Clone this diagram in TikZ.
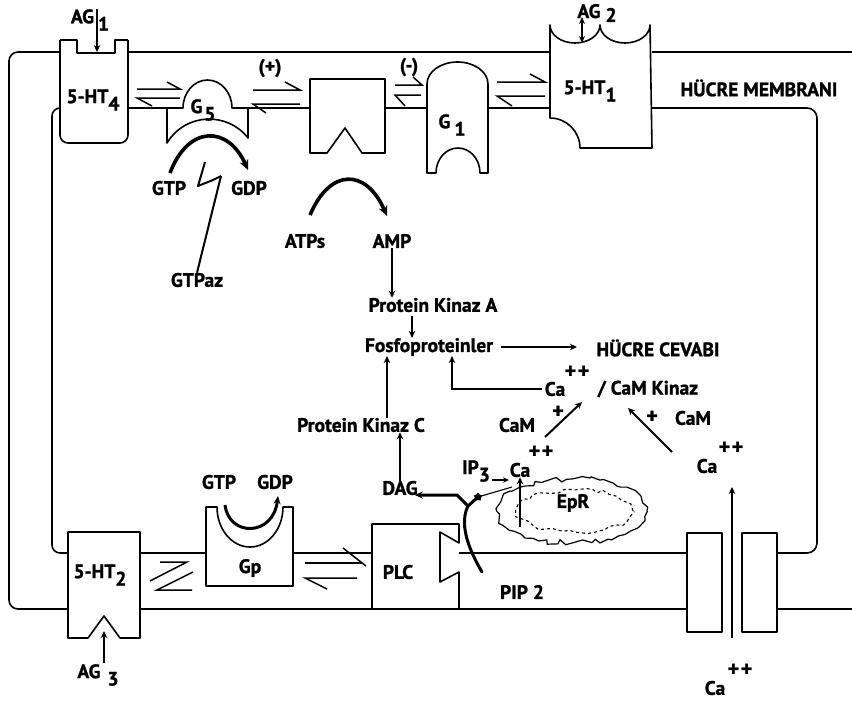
\documentclass[tikz,border=0pt]{standalone}
\usepackage{fontspec}
\setmainfont{PT Sans}
\newfontfamily\lblfont{PT Sans}[UprightFont=* Bold, FakeBold=1.2]
\usetikzlibrary{arrows.meta,decorations.pathmorphing,shapes.geometric}
\newcommand\lowx[1]{\raisebox{-0.38em}{#1}}
\newcommand\pplus{+\hspace{1.5pt}+}
\tikzset{
  lbl/.style={font=\lblfont\fontsize{19.5}{21}\selectfont, inner sep=0pt},
  plbl/.style={font=\lblfont\fontsize{22}{22}\selectfont, inner sep=0pt},
  mem/.style={line width=1.6pt, line join=round},
  shp/.style={line width=1.6pt, line join=round, fill=white},
  arr/.style={line width=2pt, -{Stealth[length=7pt,width=6.5pt]}},
  halfa/.style={line width=1.5pt},
  fatarc/.style={line width=3.6pt, -{Stealth[length=10pt,width=9pt]}},
}
\begin{document}
\begin{tikzpicture}[x=1pt,y=-1pt]
\useasboundingbox (0,0) rectangle (852,702);
\fill[white] (0,0) rectangle (852,702);
\pgfmathsetseed{4321}
% ---------- membrane lines ----------
\draw[mem,rounded corners=9pt] (60,52) -- (9,52) -- (9,609) -- (68,609);
\draw[mem] (128,52) -- (550,52);
\draw[mem] (652,52) -- (852,52);
\draw[mem,rounded corners=8pt] (60,108) -- (52,108) -- (52,553) -- (68,553);
\draw[mem] (128,108) -- (167,108);
\draw[mem] (248,108) -- (310,108);
\draw[mem] (385,108) -- (427,108);
\draw[mem] (488,108) -- (550,108);
\draw[mem,rounded corners=10pt] (652,108) -- (817,108) -- (817,553) -- (777,553);
\draw[mem] (140,553) -- (206,553);
\draw[mem] (293,553) -- (372,553);
\draw[mem] (459,553) -- (687,553);
\draw[mem] (140,609) -- (372,609);
\draw[mem] (459,609) -- (687,609);
\draw[mem] (777,609) -- (852,609);
% ---------- 5-HT4 ----------
\draw[shp,rounded corners=8pt] (60,40) -- (60,143) -- (128,143) -- (128,40);
\draw[shp] (60,40) -- (77,40) -- (77,53) -- (115,53) -- (115,40) -- (128,40);
% ---------- G5 ----------
\draw[shp] (167,108) -- (183,108) arc[start angle=180,end angle=0,x radius=24.5pt,y radius=28pt] -- (248,108) -- (248,138)
  .. controls (228,112) and (186,112) .. (167,143) -- cycle;
% ---------- adenylate cyclase ----------
\draw[shp] (310,79) -- (385,79) -- (385,153) -- (362,153) -- (345,128) -- (327,153) -- (310,153) -- cycle;
% ---------- G1 ----------
\draw[shp] (427,173) -- (427,84) arc[start angle=180,end angle=0,x radius=30.5pt,y radius=22pt] -- (488,173) -- (480,173)
  arc[start angle=0,end angle=180,x radius=22pt,y radius=25pt] -- (427,173) -- cycle;
% ---------- 5-HT1 ----------
\draw[shp] (550,25) arc[start angle=180,end angle=360,x radius=25pt,y radius=18pt]
  arc[start angle=180,end angle=360,x radius=25pt,y radius=18pt] -- (652,148) -- (580,148)
  arc[start angle=0,end angle=90,radius=30pt] -- cycle;
% ---------- 5-HT2 ----------
\draw[shp] (68,532) -- (140,532) -- (140,638) -- (120,638) -- (104,616) -- (88,638) -- (68,638) -- cycle;
% ---------- Gp ----------
\draw[shp] (206,507) -- (206,586) -- (293,586) -- (293,507) -- (283,507)
  arc[start angle=0,end angle=-180,x radius=33pt,y radius=40pt] -- cycle;
% ---------- PLC ----------
\draw[shp] (372,524) -- (459,524) -- (459,543) -- (440,532) -- (440,582) -- (459,572) -- (459,609) -- (372,609) -- cycle;
% ---------- Ca channel ----------
\draw[shp] (687,533) rectangle (722,632);
\draw[shp] (742,533) rectangle (777,632);
% ---------- equilibrium half arrows ----------
\draw[halfa] (137,89) -- (180,89) -- (167,82);
\draw[halfa] (180,98) -- (137,98) -- (152,106);
\draw[halfa] (253,90) -- (300,90) -- (285,82);
\draw[halfa] (300,104) -- (253,104) -- (266,113);
\draw[halfa] (395,85) -- (422,85) -- (413,77);
\draw[halfa] (421,95) -- (395,95) -- (405,106);
\draw[halfa] (497,82) -- (545,82) -- (530,74);
\draw[halfa] (545,96) -- (497,96) -- (512,106);
\draw[halfa] (305,563) -- (362,563);
\draw[halfa] (343,548) -- (366,566);
\draw[halfa] (357,578) -- (305,578) -- (327,589);
\draw[halfa] (160,562) -- (187,562) -- (150,581);
\draw[halfa] (193,572) -- (157,590) -- (192,590);
% ---------- text nodes ----------
\node[lbl] (ag1) at (90,20) {AG\hspace{4pt}\lowx{1}};
\node[lbl] (ht4) at (93,100) {5-HT\lowx{4}};
\node[lbl] (g5) at (203,110) {G\hspace{2pt}\lowx{5}};
\node[lbl] (plus) at (270,68) {(+)};
\node[lbl] (minus) at (409,67) {(-)};
\node[lbl] (g1) at (452,125) {G\hspace{4pt}\lowx{1}};
\node[lbl] (ag2) at (597,13) {AG\hspace{5pt}\raisebox{-0.2em}{2}};
\node[lbl] (ht1) at (590,91) {5-HT\lowx{1}};
\node[lbl] (membr) at (759,88) {HÜCRE MEMBRANI};
\node[lbl] (gtp1) at (169,188) {GTP};
\node[lbl] (gdp1) at (249,188) {GDP};
\node[lbl] (gtpaz) at (197,280) {GTPaz};
\node[lbl] (atps) at (305,241) {ATPs};
\node[lbl] (amp) at (392,241) {AMP};
\node[lbl] (pka) at (433,305) {Protein Kinaz A};
\node[lbl] (fosfo) at (429,347) {Fosfoproteinler};
\node[lbl] (cevap) at (658,348) {HÜCRE CEVABI};
\node[lbl] (ca1) at (555,389) {Ca};
\node[plbl] (pp1) at (577,372) {\pplus};
\node[lbl] (kinaz) at (648,389) {/ CaM Kinaz};
\node[lbl] (pkc) at (361,425) {Protein Kinaz C};
\node[lbl] (cam1) at (517,425) {CaM};
\node[plbl] (pl1) at (558,412) {+};
\node[lbl] (cam2) at (693,418) {CaM};
\node[plbl] (pl2) at (652,417) {+};
\node[lbl] (ca3) at (707,466) {Ca};
\node[plbl] (pp3) at (731,448) {\pplus};
\node[lbl] (dag) at (400,488) {DAG};
\node[lbl] (ip3) at (476,471) {IP\lowx{3}};
\node[lbl] (ca2) at (520,470) {Ca};
\node[plbl] (pp2) at (541,452) {\pplus};
\node[lbl] (epr) at (573,503) {EpR};
\node[lbl] (gtp2) at (219,482) {GTP};
\node[lbl] (gdp2) at (275,482) {GDP};
\node[lbl] (gp) at (250,568) {Gp};
\node[lbl] (plc) at (398,572) {PLC};
\node[lbl] (pip2) at (522,592) {PIP 2};
\node[lbl] (ht2) at (100,575) {5-HT\lowx{2}};
\node[lbl] (ag3) at (98,675) {AG\hspace{7pt}\lowx{3}};
\node[lbl] (ca4) at (715,688) {Ca};
\node[plbl] (pp4) at (740,670) {\pplus};
% ---------- EpR ----------
\draw[line width=1.2pt, decorate, decoration={random steps,segment length=6pt,amplitude=3pt}]
  (572,511) ellipse [x radius=75pt, y radius=32pt];
\draw[line width=1.1pt, dashed, decorate, decoration={random steps,segment length=6pt,amplitude=2.2pt}]
  (575,511) ellipse [x radius=58pt, y radius=21pt];
% ---------- coordinates ----------
\coordinate (ag1top) at (97,9);
\coordinate (ag1bot) at (97,52);
\coordinate (ag2top) at (582,17);
\coordinate (ag2bot) at (582,43);
\coordinate (ag3bot) at (104,663);
\coordinate (ag3top) at (104,631);
\coordinate (g5a) at (170,173);
\coordinate (g5b) at (248,170);
\coordinate (ata) at (310,215);
\coordinate (atb) at (387,216);
\coordinate (gpa) at (225,505);
\coordinate (gpb) at (278,496);
\coordinate (fork) at (468,506);
\coordinate (stem) at (482,572);
\coordinate (star) at (478,497);
\coordinate (eprtop) at (520,527);
\coordinate (chan) at (732,638);
\coordinate (chantop) at (732,487);
\coordinate (bolt) at (221,176);
\coordinate (cam1s) at (545,437);
\coordinate (cam1e) at (582,402);
\coordinate (cam2s) at (672,452);
\coordinate (cam2e) at (628,408);
\coordinate (ip3s) at (492,480);
\coordinate (ip3e) at (509,480);
\coordinate (erline) at (512,487);
\coordinate (cevin) at (577,347);
% ---------- connectors ----------
\draw[arr] (ag1top) -- (ag1bot);
\draw[line width=1.8pt, {Stealth[length=7pt,width=6pt]}-{Stealth[length=7pt,width=6pt]}] (ag2top) -- (ag2bot);
\draw[arr] (ag3bot) -- (ag3top);
\draw[fatarc] (g5a) .. controls (188,125) and (228,125) .. (g5b);
\draw[fatarc] (ata) .. controls (330,168) and (366,168) .. (atb);
\draw[line width=3pt, -{Stealth[length=8pt,width=7pt]}] (gpa) .. controls (229,537) and (273,537) .. (gpb);
\draw[line width=2pt, line join=round] (205,162) -- (198,186) -- (213,180) -- (bolt);
\draw[line width=2pt] (bolt) -- (gtpaz.north);
\draw[arr] (amp.south) -- (amp.south |- pka.north);
\draw[arr] (412,316) -- (fosfo.north -| 412,0);
\draw[arr] ([xshift=8pt]fosfo.east) -- (cevin);
\draw[arr] (pkc.north -| 387,0) -- (fosfo.south -| 387,0);
\draw[arr] ([xshift=-3pt]ca1.west) -| (fosfo.south -| 452,0);
\draw[arr] (dag.north) -- (dag.north |- pkc.south);
\draw[arr] (cam1s) -- (cam1e);
\draw[arr] (cam2s) -- (cam2e);
\draw[line width=1.6pt, -{Stealth[length=6pt,width=5.5pt]}] (ip3s) -- (ip3e);
\draw[arr] (eprtop) -- (ca2.south);
\draw[arr] (chan) -- (chantop);
\draw[line width=3pt, line cap=round] (stem) .. controls (466,545) and (460,522) .. (fork);
\draw[line width=3pt, -{Stealth[length=8pt,width=7pt]}] (fork) -- (457,495) -- ([xshift=-3pt]dag.east |- 0,495);
\draw[line width=3pt] (fork) -- (star);
\node[star, star points=5, fill=black, minimum size=9pt, inner sep=0pt] at (star) {};
\draw[line width=1.1pt] (star) -- (erline);
\end{tikzpicture}
\end{document}
